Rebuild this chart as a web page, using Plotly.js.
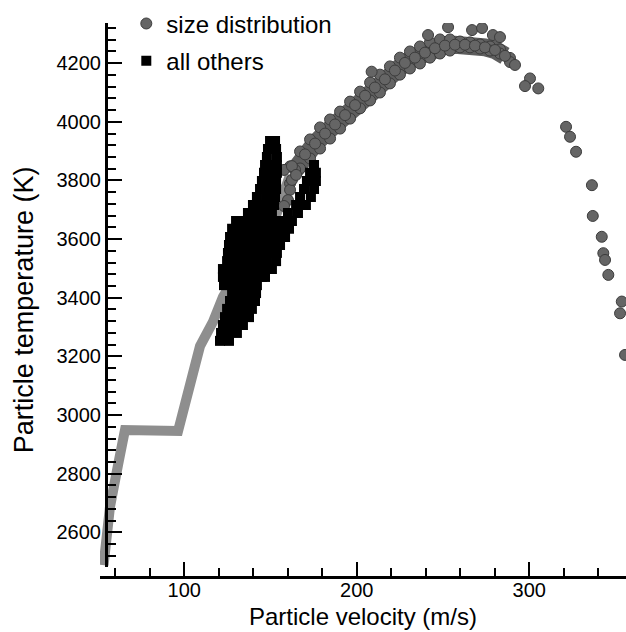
<!DOCTYPE html>
<html>
<head>
<meta charset="utf-8">
<script src="https://cdn.plot.ly/plotly-3.0.1.min.js"></script>
<style>html,body{margin:0;padding:0;background:#fff;}#chart{width:626px;height:632px;}</style>
</head>
<body>
<div id="chart"></div>
<script>
// ---- data ----
// dense lower part of the "size distribution" band (centre path)
const bandV = [53.2, 56.9, 61.6, 65.6, 96.4, 101.4, 105.2, 109.1, 116.6, 122.4, 132.3, 143.9, 153.7, 161.3];
const bandT = [2488, 2686, 2830, 2949, 2946, 3051, 3154, 3235, 3318, 3403, 3502, 3597, 3689, 3819];

// upper band of "size distribution" points: upper edge, lower edge, middle
const edgeV   = [161.3,167.1,172.9,178.7,184.5,190.3,196.1,201.9,207.7,213.4,219.2,225.0,230.8,236.6,242.4,248.2,254.0,259.8,265.6,271.4,277.2,283.0,288.8];
const upperT  = [3848,3899,3940,3981,4008,4035,4069,4103,4134,4161,4189,4219,4240,4257,4271,4281,4281,4274,4271,4264,4257,4247,4218];
const lowerT  = [3790,3841,3875,3909,3943,3977,4011,4046,4073,4100,4131,4161,4182,4199,4219,4233,4243,4254,4254,4250,4243,4233,4204];
const middleV = [164.2,170.0,175.8,181.6,187.4,193.2,199.0,204.8,210.5,216.3,222.1,227.9,233.7,239.5,245.3,251.1,256.9,262.7,268.5,274.3,280.1,285.9];
const middleT = [3836,3889,3926,3960,3991,4023,4057,4089,4117,4145,4175,4201,4219,4236,4251,4260,4263,4263,4260,4254,4245,4225];
// isolated "size distribution" points
const looseV = [157.8,162.4,161.3,160.1,162.4,164.8,157.8,208.6,241.3,252.9,266.8,272.6,278.9,283.0,291.7,300.4,297.5,305.2,321.3,323.6,327.1,336.3,336.8,342.0,342.9,343.9,345.8,353.6,352.6,355.5];
const looseT = [3836,3849,3768,3733,3802,3819,3713,4171,4296,4323,4313,4320,4296,4289,4194,4148,4122,4114,3983,3949,3898,3784,3679,3608,3552,3529,3478,3387,3347,3205];

// "all others": temperature rows and the velocities found on each row
const othersRowT = [3935,3907,3880,3853,3826,3798,3771,3744,3716,3689,3662,3635,3607,3580,3553,3525,3498,3471,3443,3416,3389,3362,3334,3307,3280,3253];
const othersRowV = [
  [149.7,152.6],
  [148.5,153.2],
  [147.9,153.7],
  [146.8,150.8,153.7,175.2],
  [146.2,150.3,153.7,172.9,176.3],
  [145.0,149.1,153.2,171.1,176.3],
  [143.9,148.5,153.2,169.4,175.2],
  [142.1,147.4,152.6,167.1,173.4],
  [139.8,144.5,148.5,152.0,164.8,170.5],
  [136.9,141.6,146.2,150.8,160.1,165.9],
  [130.0,134.6,139.2,143.9,148.5,153.2,157.8,162.4],
  [127.7,132.3,136.9,141.6,146.2,150.8,155.5,160.7],
  [126.5,131.1,135.8,140.4,145.0,149.7,154.3,158.4],
  [125.9,130.5,135.2,139.8,144.5,149.1,153.7,155.5],
  [125.3,130.0,134.6,139.2,143.9,148.5,153.7],
  [124.8,129.4,134.0,138.7,143.3,147.9,153.2],
  [122.4,127.1,131.7,136.4,141.0,145.6,150.8],
  [122.4,126.5,131.1,135.8,140.4,145.0,146.8],
  [123.0,127.7,132.3,136.9,142.1],
  [127.7,132.3,136.9,141.6],
  [126.5,131.1,135.8,141.0],
  [124.8,129.4,134.0,139.2],
  [123.6,128.2,132.9,137.5],
  [122.4,127.1,131.7,134.0],
  [121.3,125.9,130.5],
  [120.7,125.9]
];

const xTickVals = [100, 200, 300];
const yTickVals = [2600, 2800, 3000, 3200, 3400, 3600, 3800, 4000, 4200];

// ---- assemble ----
const sdV = [].concat(edgeV, edgeV, middleV, looseV);
const sdT = [].concat(upperT, lowerT, middleT, looseT);
const aoV = [], aoT = [];
othersRowT.forEach((t, i) => othersRowV[i].forEach(v => { aoV.push(v); aoT.push(t); }));

const FONT = 'Liberation Sans, Arial, Helvetica, sans-serif';

const traces = [
  {
    x: bandV, y: bandT, type: 'scatter', mode: 'lines',
    line: {color: '#8e8e8e', width: 10},
    showlegend: false, legendgroup: 'a', hoverinfo: 'skip'
  },
  {
    x: middleV, y: middleT, type: 'scatter', mode: 'lines',
    line: {color: '#5e5e5e', width: 18},
    showlegend: false, legendgroup: 'a', hoverinfo: 'skip'
  },
  {
    x: sdV, y: sdT, type: 'scatter', mode: 'markers', name: 'size distribution',
    legendgroup: 'a',
    marker: {symbol: 'circle', size: 11, color: '#656565', line: {color: '#3c3c3c', width: 1}}
  },
  {
    x: aoV, y: aoT, type: 'scatter', mode: 'markers', name: 'all others',
    legendgroup: 'b',
    marker: {symbol: 'square', size: 10, color: '#000000', line: {width: 0}}
  }
];

const axisCommon = {
  showline: true, linewidth: 3, linecolor: '#000',
  ticks: 'inside', ticklen: 14, tickwidth: 2, tickcolor: '#000',
  showgrid: false, zeroline: false,
  tickfont: {family: FONT, size: 20, color: '#000'}
};

const layout = {
  width: 626, height: 632,
  margin: {l: 100, r: 0, t: 23, b: 55, pad: 0},
  paper_bgcolor: '#fff', plot_bgcolor: '#fff',
  font: {family: FONT, color: '#000'},
  showlegend: true,
  legend: {
    x: 0.05, xanchor: 'left', y: 1.039, yanchor: 'top',
    bgcolor: 'rgba(0,0,0,0)', borderwidth: 0,
    font: {family: FONT, size: 24, color: '#000'},
    traceorder: 'grouped', tracegroupgap: 3
  },
  xaxis: Object.assign({}, axisCommon, {
    range: [51.13, 356.05], domain: [0, 1], anchor: 'free', position: 0,
    tickmode: 'array', tickvals: xTickVals, ticklabelstandoff: -6,
    minor: {dtick: 20, tick0: 0, ticks: 'inside', ticklen: 8, tickwidth: 2, tickcolor: '#000', showgrid: false},
    title: {text: 'Particle velocity (m/s)', font: {family: FONT, size: 24, color: '#000'}, standoff: 8}
  }),
  yaxis: Object.assign({}, axisCommon, {
    range: [2480.7, 4337.1], domain: [0.0175, 1], anchor: 'free', position: 0.0114,
    tickmode: 'array', tickvals: yTickVals,
    minor: {dtick: 40, tick0: 0, ticks: 'inside', ticklen: 8, tickwidth: 2, tickcolor: '#000', showgrid: false}
  }),
  annotations: [{
    text: 'Particle temperature (K)', textangle: -90,
    xref: 'paper', yref: 'paper', x: -0.143, y: 0.483, xanchor: 'center', yanchor: 'middle',
    showarrow: false, font: {family: FONT, size: 27, color: '#000'}
  }]
};

Plotly.newPlot('chart', traces, layout, {displayModeBar: false, staticPlot: true});
</script>
</body>
</html>
